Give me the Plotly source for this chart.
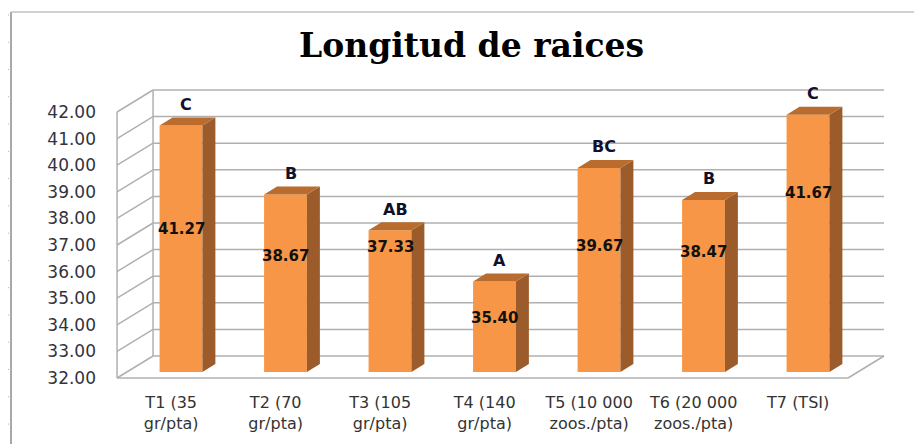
import plotly.graph_objects as go

# ---------------- data ----------------
categories = ["T1 (35<br>gr/pta)", "T2 (70<br>gr/pta)", "T3 (105<br>gr/pta)",
              "T4 (140<br>gr/pta)", "T5 (10 000<br>zoos./pta)",
              "T6 (20 000<br>zoos./pta)", "T7 (TSI)"]
values = [41.27, 38.67, 37.33, 35.40, 39.67, 38.47, 41.67]
letters = ["C", "B", "AB", "A", "BC", "B", "C"]
y_ticks = list(range(32, 43))

# ---------------- layout / style (not data) ----------------
label_y = [37.38, 36.36, 36.70, 34.03, 36.74, 36.51, 38.73]  # where Excel placed value labels
BASE = 32
BAR_W = 0.41
BAR_DX, BAR_DY = 0.124, 0.30          # bar depth (x units, value units)
DEP_DX, DEP_DY = 0.3445, 0.8277       # full floor depth
FRONT_DX, FRONT_DY = -0.094, -0.226   # front plane relative to bar plane
X_L, X_R = -0.518, 6.477              # floor extent in bar plane
ORANGE, SIDE, TOP = "#F79646", "#9C5B2B", "#B96C2E"
GRID = "#B0B0B0"
FONT = "DejaVu Sans"

idx = list(range(len(values)))
fig = go.Figure()

# front faces
fig.add_trace(go.Bar(x=idx, y=[v - BASE for v in values], base=BASE, width=BAR_W,
                     marker=dict(color=ORANGE, line=dict(width=0)), hoverinfo="skip"))

# side and top faces
for i, v in zip(idx, values):
    xr = i + BAR_W / 2
    xl = i - BAR_W / 2
    fig.add_trace(go.Scatter(
        x=[xr, xr + BAR_DX, xr + BAR_DX, xr, xr],
        y=[BASE, BASE + BAR_DY, v + BAR_DY, v, BASE],
        fill="toself", fillcolor=SIDE, mode="lines", line=dict(width=0),
        hoverinfo="skip"))
    fig.add_trace(go.Scatter(
        x=[xl, xr, xr + BAR_DX, xl + BAR_DX, xl],
        y=[v, v, v + BAR_DY, v + BAR_DY, v],
        fill="toself", fillcolor=TOP, mode="lines", line=dict(width=0),
        hoverinfo="skip"))

# walls / gridlines (below traces)
shapes = []
xlf, xrf = X_L + FRONT_DX, X_R + FRONT_DX
xlb, xrb = xlf + DEP_DX, xrf + DEP_DX
for t in y_ticks:
    yf = t + FRONT_DY
    yb = yf + DEP_DY
    shapes.append(dict(type="line", x0=xlf, y0=yf, x1=xlb, y1=yb, layer="below",
                       line=dict(color=GRID, width=1.5)))
    shapes.append(dict(type="line", x0=xlb, y0=yb, x1=xrb, y1=yb, layer="below",
                       line=dict(color=GRID, width=1.5)))
y0f = BASE + FRONT_DY
y1f = y_ticks[-1] + FRONT_DY
shapes += [
    dict(type="line", x0=xlf, y0=y0f, x1=xrf, y1=y0f, layer="below", line=dict(color=GRID, width=1.5)),
    dict(type="line", x0=xrf, y0=y0f, x1=xrb, y1=y0f + DEP_DY, layer="below", line=dict(color=GRID, width=1.5)),
    dict(type="line", x0=xlf, y0=y0f, x1=xlf, y1=y1f, layer="below", line=dict(color=GRID, width=1.5)),
    dict(type="line", x0=xlb, y0=y0f + DEP_DY, x1=xlb, y1=y1f + DEP_DY, layer="below", line=dict(color=GRID, width=1.5)),
]

# screen geometry (page body has an 8px margin)
OFF = 8
W, H = 922 - OFF, 444 - OFF
L, R, T, B = 100 - OFF, 22, 60 - OFF, 60
PW, PH = W - L - R, H - T - B
px = lambda x: (x - OFF - L) / PW
py = lambda y: (H - B - (y - OFF)) / PH

shapes.append(dict(type="line", xref="paper", yref="paper", x0=px(11), y0=py(12), x1=px(11), y1=py(444),
                   line=dict(color="#A8A8A8", width=2)))
shapes.append(dict(type="line", xref="paper", yref="paper", x0=px(11), y0=py(12), x1=px(922), y1=py(12),
                   line=dict(color="#C0C0C0", width=1.5)))
for k in range(16):
    yy = 15 + 27.27 * k
    shapes.append(dict(type="line", xref="paper", yref="paper", x0=px(4), y0=py(yy), x1=px(9), y1=py(yy),
                       line=dict(color="#B0B0B0", width=1)))

annotations = []
for i, v, ly, s in zip(idx, values, label_y, letters):
    annotations.append(dict(x=i, y=ly, text=f"{v:.2f}", showarrow=False, yanchor="middle",
                            font=dict(family=FONT, size=15, color="#111111", weight="bold")))
    annotations.append(dict(x=i + 0.05, y=v, text=s, showarrow=False, yshift=21, yanchor="middle",
                            font=dict(family=FONT, size=16, color="#10102a", weight="bold")))
annotations.append(dict(xref="paper", yref="paper", x=px(471), y=py(45), xanchor="center", yanchor="middle",
                        text="<b>Longitud de raices</b>",
                        showarrow=False, font=dict(family="DejaVu Serif", size=33, color="#000000")))

x_min = -0.7751
x_max = x_min + PW / 104.5
y_min = BASE - (H - B + OFF - 372) / 26.6
y_max = BASE + (372 - T - OFF) / 26.6

fig.update_layout(
    width=W, height=H, margin=dict(l=L, r=R, t=T, b=B, autoexpand=False),
    paper_bgcolor="white", plot_bgcolor="white", showlegend=False,
    shapes=shapes, annotations=annotations,
    xaxis=dict(range=[x_min, x_max], tickmode="array", automargin=False,
               tickvals=[i + FRONT_DX for i in idx], ticktext=categories,
               showgrid=False, zeroline=False, showline=False, ticks="",
               ticklabelstandoff=7,
               tickfont=dict(family=FONT, size=16, color="#333333")),
    yaxis=dict(range=[y_min, y_max], tickmode="array", automargin=False,
               tickvals=[t + FRONT_DY for t in y_ticks], ticktext=[f"{t:.2f}" for t in y_ticks],
               showgrid=False, zeroline=False, showline=False, ticks="",
               ticklabelstandoff=3,
               tickfont=dict(family=FONT, size=17, color="#333340")),
)

fig.write_html("out.html")
